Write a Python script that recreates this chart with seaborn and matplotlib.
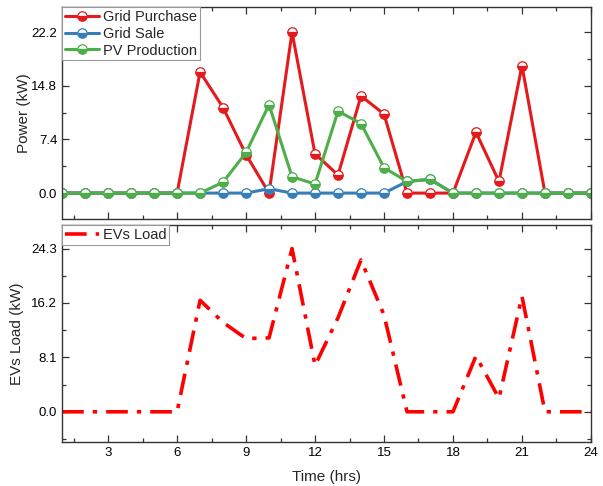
import numpy as np
import pandas as pd
import matplotlib
matplotlib.use('Agg')
import matplotlib.pyplot as plt
from matplotlib.ticker import MultipleLocator
import seaborn as sns

# hourly data
hours = list(range(1, 25))
grid_purchase = [0, 0, 0, 0, 0, 0, 16.7, 11.8, 5.3, 0, 22.2, 5.4,
                 2.5, 13.4, 10.9, 0, 0, 0, 8.4, 1.6, 17.6, 0, 0, 0]
grid_sale = [0, 0, 0, 0, 0, 0, 0, 0, 0, 0.6, 0, 0,
             0, 0, 0, 1.6, 1.9, 0, 0, 0, 0, 0, 0, 0]
pv_production = [0, 0, 0, 0, 0, 0, 0, 1.5, 5.6, 12.2, 2.25, 1.25,
                 11.3, 9.6, 3.5, 1.6, 1.9, 0, 0, 0, 0, 0, 0, 0]
ev_load = [0, 0, 0, 0, 0, 0, 16.6, 13.3, 10.9, 11.0, 24.3, 6.9,
           14.0, 22.6, 14.4, 0, 0, 0, 8.3, 2.0, 17.2, 0, 0, 0]

power_ticks = [0.0, 7.4, 14.8, 22.2]
load_ticks = [0.0, 8.1, 16.2, 24.3]

sns.set_style('ticks')
plt.rcParams['font.family'] = ['Liberation Sans', 'DejaVu Sans']
plt.rcParams['axes.edgecolor'] = '#333333'

colors = sns.color_palette('Set1', 3)

fig = plt.figure(figsize=(6.03, 4.86), dpi=100)
ax1 = fig.add_axes([0.103, 0.549, 0.877, 0.437])
ax2 = fig.add_axes([0.103, 0.0905, 0.877, 0.4465])

series = [('Grid Purchase', grid_purchase, colors[0]),
          ('Grid Sale', grid_sale, colors[1]),
          ('PV Production', pv_production, colors[2])]
for name, vals, c in series:
    sns.lineplot(x=hours, y=vals, ax=ax1, color=c, lw=2.2, label=name,
                 marker='o', markersize=6.8, fillstyle='bottom',
                 markerfacecoloralt='white', markeredgecolor=c,
                 markeredgewidth=0.9)

sns.lineplot(x=hours, y=ev_load, ax=ax2, color='#ff0000', lw=2.6,
             linestyle=(0, (6, 2.5, 1.2, 2.5)), label='EVs Load')

for ax in (ax1, ax2):
    ax.set_xlim(1, 24)
    ax.xaxis.set_major_locator(MultipleLocator(3))
    ax.xaxis.set_minor_locator(MultipleLocator(1.5))
    ax.tick_params(which='both', direction='in', top=True, right=True,
                   labelsize=9.5, width=0.9, colors='#333333', labelcolor='black')
    ax.tick_params(which='major', length=5)
    ax.tick_params(which='minor', length=3)
    for s in ax.spines.values():
        s.set_linewidth(1.0)

ax1.set_ylim(-3.6, 25.7)
ax1.set_yticks(power_ticks)
ax1.set_yticklabels([f'{v:.1f}' for v in power_ticks])
ax1.yaxis.set_minor_locator(MultipleLocator(3.7))
ax1.tick_params(axis='x', labelbottom=False)
ax1.set_ylabel('Power (kW)', fontsize=11)

ax2.set_ylim(-4.5, 27.8)
ax2.set_yticks(load_ticks)
ax2.set_yticklabels([f'{v:.1f}' for v in load_ticks])
ax2.yaxis.set_minor_locator(MultipleLocator(4.05))
ax2.set_ylabel('EVs Load (kW)', fontsize=11)
ax2.set_xlabel('Time (hrs)', fontsize=11, labelpad=8)

for ax in (ax1, ax2):
    leg = ax.legend(loc='upper left', fontsize=10.5, frameon=True, fancybox=False,
                    borderaxespad=0.0, borderpad=0.2, handlelength=2.3,
                    handletextpad=0.3, labelspacing=0.2, framealpha=1)
    leg.get_frame().set_edgecolor('#999999')
    leg.get_frame().set_linewidth(0.8)

ax1.yaxis.set_label_coords(-0.059, 0.5)
ax2.yaxis.set_label_coords(-0.072, 0.5)

fig.savefig('out.png', dpi=100)
